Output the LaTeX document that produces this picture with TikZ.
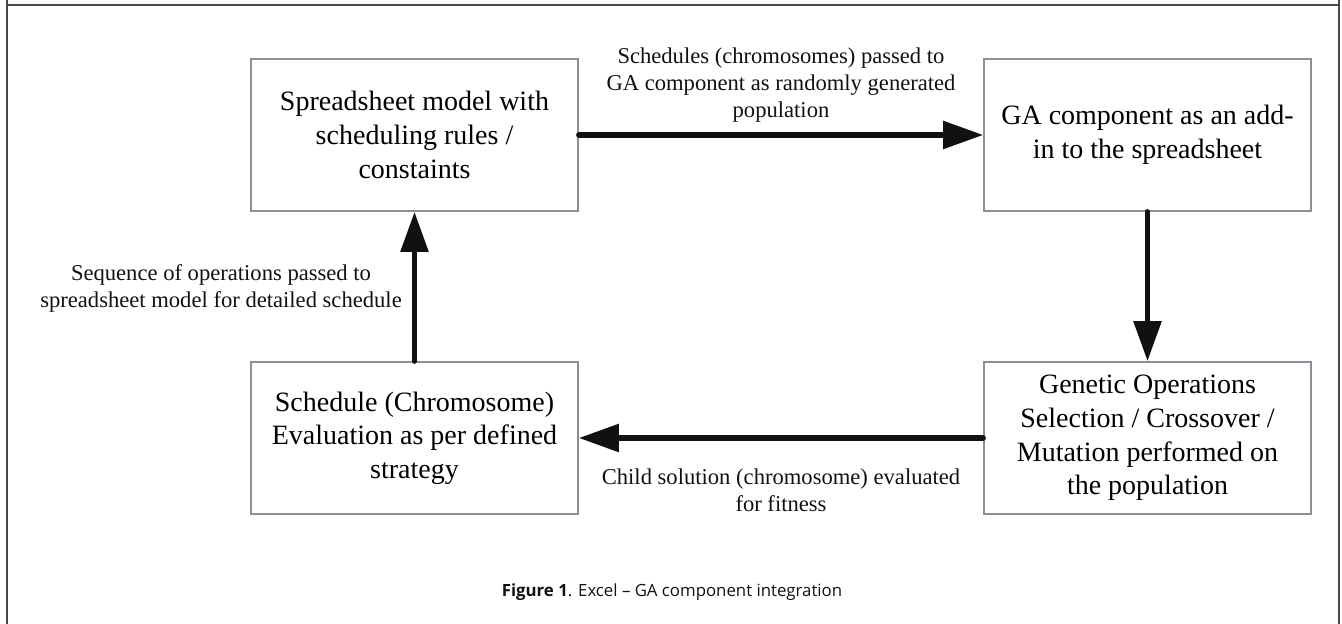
\documentclass[tikz,border=0pt]{standalone}
\usepackage{fontspec}
\usepackage{xcolor}
\usepackage{tikz}
\usetikzlibrary{arrows.meta,positioning}
\setmainfont{Liberation Serif}
\newfontfamily\capfont{Open Sans}
\definecolor{fink}{HTML}{111111}
\definecolor{fgrey}{HTML}{8E8E96}
\definecolor{fframe}{HTML}{4A4A4A}

\begin{document}
\begin{tikzpicture}[x=0.5pt,y=0.5pt,
    stage/.style={draw=fgrey,line width=0.8pt,minimum width=163.5pt,minimum height=76pt,
                  align=center,inner sep=2pt,font=\fontsize{14pt}{16.8pt}\selectfont},
    note/.style={align=center,inner sep=0pt,text=fink,font=\fontsize{11.3pt}{13.5pt}\selectfont},
    flow/.style={draw=fink,line width=2.7pt,line cap=round,-{Triangle[length=20pt,width=13.5pt]}}]
  \useasboundingbox (0,0) rectangle (1342,624);
  \draw[fframe,line width=1pt] (6.5,624) -- (6.5,619) -- (1339,619) -- (1339,624);
  \draw[fframe,line width=1pt] (6.5,619) -- (6.5,0);
  \draw[fframe,line width=1pt] (1339,619) -- (1339,0);

  % the four stages
  \node[stage] (sheet)  at (414.5,489)  {Spreadsheet model with\\scheduling rules /\\constaints};
  \node[stage] (ga)     at (1147.5,489) {GA component as an add-\\in to the spreadsheet};
  \node[stage] (genops) at (1147.5,186) {Genetic Operations\\Selection / Crossover /\\Mutation performed on\\the population};
  \node[stage] (evalbox) at (414.5,186) {Schedule (Chromosome)\\Evaluation as per defined\\strategy};

  \draw[flow] (sheet) -- (ga);
  \draw[flow] (ga) -- (genops);
  \draw[flow] (genops) -- (evalbox);
  \draw[flow] (evalbox) -- (sheet);

  \node[note] (passlbl)  at (781,539) {Schedules (chromosomes) passed to\\GA component as randomly generated\\population};
  \node[note] (seqlbl)   at (221,336) {Sequence of operations passed to\\spreadsheet model for detailed schedule};
  \node[note] (childlbl) at (781,134) {Child solution (chromosome) evaluated\\for fitness};

  \node[font=\capfont\fontsize{8.4pt}{10.1pt}\selectfont,text=fink] (caption) at (672,32)
    {\textbf{Figure 1}. Excel – GA component integration};
\end{tikzpicture}
\end{document}
